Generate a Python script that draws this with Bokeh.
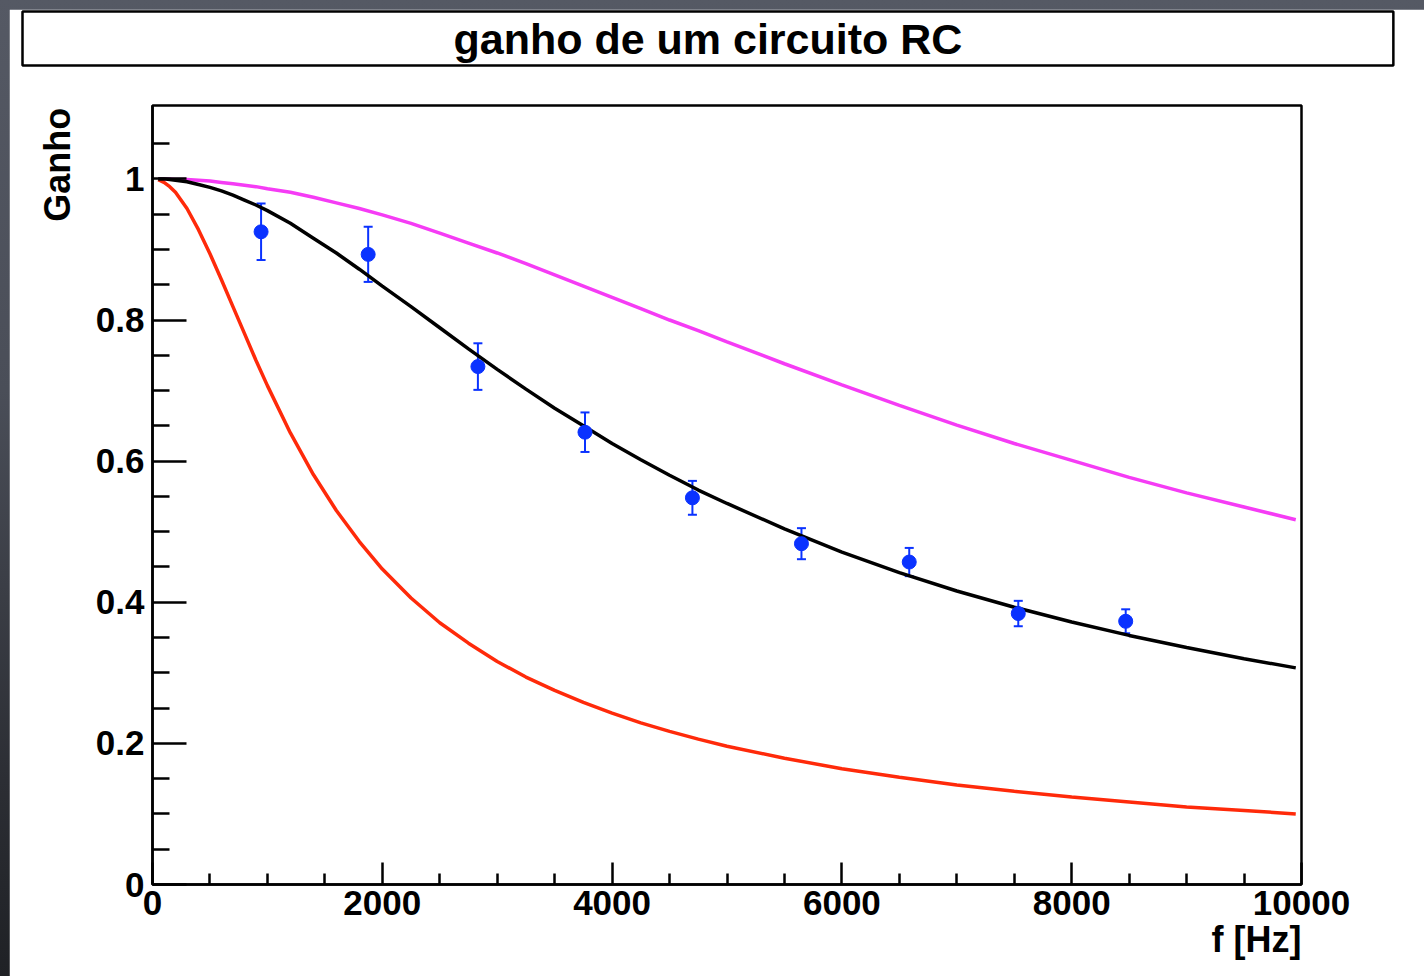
from bokeh.plotting import figure
from bokeh.layouts import column, row
from bokeh.models import (Range1d, FixedTicker, Whisker, ColumnDataSource, Title,
                          TeeHead, NumeralTickFormatter, Spacer, LinearAxis)
from bokeh.embed import file_html
from bokeh.resources import INLINE

# ---------------- data ----------------
title_text = "ganho de um circuito RC"
x_title = "f [Hz]"
y_title = "Ganho"

# measured points
freq_pts = [945, 1877, 2832, 3764, 4699, 5648, 6586, 7535, 8470]
gain_pts = [0.925, 0.893, 0.734, 0.641, 0.548, 0.483, 0.457, 0.384, 0.373]
gain_err = [0.040, 0.039, 0.033, 0.028, 0.024, 0.022, 0.020, 0.018, 0.017]

# curve sample frequencies
freq_curve = [50, 100, 150, 200, 300, 400, 500, 600, 700, 800, 900, 1000,
              1200, 1400, 1600, 1800, 2000, 2250, 2500, 2750, 3000, 3250,
              3500, 3750, 4000, 4250, 4500, 4750, 5000, 5500, 6000, 6500,
              7000, 7500, 8000, 8500, 9000, 9500, 9950]
# fitted curve (black)
gain_fit = [1.000, 1.000, 0.999, 0.998, 0.996, 0.992, 0.988, 0.983, 0.977,
            0.970, 0.963, 0.955, 0.937, 0.916, 0.895, 0.872, 0.848, 0.819,
            0.789, 0.759, 0.730, 0.702, 0.675, 0.650, 0.625, 0.602, 0.580,
            0.559, 0.540, 0.504, 0.471, 0.442, 0.416, 0.393, 0.372, 0.353,
            0.336, 0.320, 0.307]
# high cut-off curve (magenta)
gain_high = [1.000, 1.000, 1.000, 0.999, 0.999, 0.998, 0.997, 0.995, 0.993,
             0.991, 0.989, 0.986, 0.981, 0.974, 0.966, 0.958, 0.949, 0.937,
             0.923, 0.909, 0.895, 0.880, 0.864, 0.848, 0.832, 0.816, 0.800,
             0.785, 0.769, 0.738, 0.708, 0.679, 0.651, 0.625, 0.601, 0.577,
             0.555, 0.535, 0.517]
# low cut-off curve (red)
gain_low = [0.999, 0.995, 0.989, 0.981, 0.958, 0.928, 0.894, 0.857, 0.819,
            0.781, 0.743, 0.707, 0.640, 0.581, 0.530, 0.486, 0.447, 0.406,
            0.371, 0.342, 0.316, 0.294, 0.275, 0.258, 0.243, 0.229, 0.217,
            0.206, 0.196, 0.179, 0.164, 0.152, 0.141, 0.132, 0.124, 0.117,
            0.110, 0.105, 0.100]

x_major = [0, 2000, 4000, 6000, 8000, 10000]
x_minor = [500, 1000, 1500, 2500, 3000, 3500, 4500, 5000, 5500, 6500, 7000,
           7500, 8500, 9000, 9500]
y_major = [0, 0.2, 0.4, 0.6, 0.8, 1.0]
y_minor = [0.05, 0.1, 0.15, 0.25, 0.3, 0.35, 0.45, 0.5, 0.55, 0.65, 0.7,
           0.75, 0.85, 0.9, 0.95, 1.05]

# ---------------- styling ----------------
W, H = 1424, 976
PAD = 9
FONT = "Liberation Sans"
BLUE = "#0a32ff"
XMAX, YMAX = 10000, 1.104

# frame: canvas x 152..1301, y 104..884  (figure sits at offset PAD, PAD)
p = figure(width=W - PAD, height=H - PAD, output_backend="svg", toolbar_location=None,
           title=None, x_range=Range1d(0, XMAX), y_range=Range1d(0, YMAX),
           min_border_left=152 - PAD, min_border_right=W - 1301,
           min_border_top=104 - PAD, min_border_bottom=H - 884)
p.background_fill_color = "white"
p.border_fill_color = "white"
p.outline_line_color = "black"
p.outline_line_width = 2.5
p.xgrid.visible = False
p.ygrid.visible = False

# gap between the frame and the title box (an almost empty title panel)
p.add_layout(Title(text=" ", text_font_size="1px", standoff=37), "above")
# title drawn as a boxed Title above the frame (box: canvas x 22..1393, y 12..66)
p.add_layout(Title(text=title_text, align="left", text_font=FONT,
                   text_font_style="bold", text_font_size="43px", text_color="black",
                   border_line_color="black", border_line_width=2.5,
                   padding=(431, 431, 3, 3), standoff=0, offset=-130), "above")

for ax in (p.xaxis[0], p.yaxis[0]):
    ax.axis_line_width = 2.5
    ax.major_tick_line_width = 2.5
    ax.minor_tick_line_width = 2.5
    ax.major_tick_out = 0
    ax.minor_tick_out = 0
    ax.major_label_text_font = FONT
    ax.major_label_text_font_style = "bold"
    ax.major_label_text_font_size = "35px"
    ax.major_label_text_color = "black"

p.xaxis.ticker = FixedTicker(ticks=x_major, minor_ticks=x_minor)
p.xaxis.major_tick_in = 22
p.xaxis.minor_tick_in = 11
p.xaxis.major_label_standoff = 6
p.xaxis.formatter = NumeralTickFormatter(format="0")

p.yaxis.ticker = FixedTicker(ticks=y_major, minor_ticks=y_minor)
p.yaxis.major_tick_in = 34
p.yaxis.minor_tick_in = 17
p.yaxis.major_label_standoff = 8
p.yaxis.formatter = NumeralTickFormatter(format="0.[0]")

# axis titles as outer axes carrying a single labelled tick (ROOT-like placement)
XT_POS = 9608   # centre of "f [Hz]" (right-aligned at the frame end)
YT_POS = 1.02   # centre of "Ganho" (top-aligned at the frame top)
x2 = LinearAxis(ticker=FixedTicker(ticks=[XT_POS], minor_ticks=[]),
                major_label_overrides={XT_POS: x_title},
                axis_line_color=None, major_tick_line_color=None,
                minor_tick_line_color=None, major_label_standoff=-5,
                major_label_text_font=FONT, major_label_text_font_style="bold",
                major_label_text_font_size="36px", major_label_text_color="black")
p.add_layout(x2, "below")
y2 = LinearAxis(ticker=FixedTicker(ticks=[YT_POS], minor_ticks=[]),
                major_label_overrides={YT_POS: y_title},
                major_label_orientation="vertical",
                axis_line_color=None, major_tick_line_color=None,
                minor_tick_line_color=None, major_label_standoff=8,
                major_label_text_font=FONT, major_label_text_font_style="bold",
                major_label_text_font_size="36px", major_label_text_color="black")
p.add_layout(y2, "left")

# curves
p.line(freq_curve, gain_high, line_color="#f53cf5", line_width=3.5)
p.line(freq_curve, gain_low, line_color="#ff2a0a", line_width=3.5)
p.line(freq_curve, gain_fit, line_color="black", line_width=3.5)

# points with error bars
src = ColumnDataSource(dict(
    f=freq_pts, g=gain_pts,
    hi=[g + e for g, e in zip(gain_pts, gain_err)],
    lo=[g - e for g, e in zip(gain_pts, gain_err)]))
w = Whisker(source=src, base="f", upper="hi", lower="lo", dimension="height",
            line_color=BLUE, line_width=2,
            upper_head=TeeHead(size=9, line_color=BLUE, line_width=2),
            lower_head=TeeHead(size=9, line_color=BLUE, line_width=2))
p.add_layout(w)
p.scatter("f", "g", source=src, size=14, fill_color=BLUE, line_color=BLUE)

layout = column(Spacer(width=W, height=PAD),
                row(Spacer(width=PAD, height=H - PAD), p, spacing=0),
                spacing=0,
                styles={"background": "linear-gradient(to bottom, #555964 0%, #4a4e58 40%, #2c2e34 80%, #1f2125 100%)"})

open("out.html", "w").write(file_html(layout, INLINE))
